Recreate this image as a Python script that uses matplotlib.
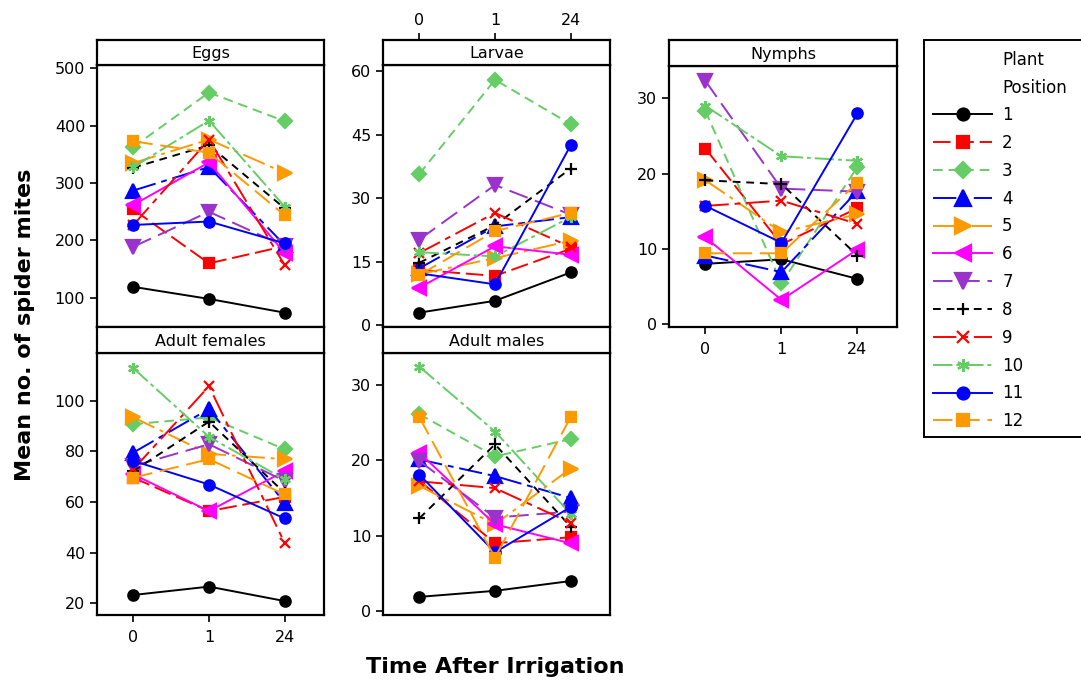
import matplotlib
matplotlib.use('Agg')
import matplotlib.pyplot as plt
from matplotlib.patches import Rectangle

W, H = 1081, 684

times = ['0', '1', '24']
plant_pos = [str(i) for i in range(1, 13)]

# mean counts per plant position (rows) at 0, 1, 24 h
eggs = [[119, 98, 74], [254, 160, 190], [363, 458, 408], [287, 328, 192],
        [335, 376, 318], [262, 336, 178], [189, 250, 190], [327, 366, 256],
        [227, 376, 157], [328, 409, 259], [227, 233, 195], [373, 353, 244]]
larvae = [[2.9, 5.7, 12.4], [13.0, 11.6, 18.0], [35.7, 58.0, 47.5], [13.4, 23.3, 25.5],
          [12.0, 15.8, 19.9], [8.8, 18.6, 16.6], [20.2, 33.1, 26.1], [14.7, 23.6, 37.0],
          [17.0, 26.5, 18.4], [17.2, 16.2, 25.5], [12.2, 9.6, 42.5], [11.8, 22.2, 26.5]]
nymphs = [[8.0, 8.6, 6.0], [23.3, 10.6, 15.4], [28.3, 5.4, 20.9], [9.1, 6.9, 17.7],
          [19.1, 12.2, 14.6], [11.5, 3.2, 9.9], [32.3, 18.0, 17.6], [19.1, 18.6, 9.1],
          [15.7, 16.4, 13.3], [29.0, 22.3, 21.7], [15.7, 10.8, 28.0], [9.4, 9.4, 18.8]]
adult_f = [[23.3, 26.6, 20.9], [69.6, 56.4, 62.0], [90.7, 93.4, 80.8], [79.5, 96.7, 59.7],
           [93.4, 79.0, 76.9], [70.9, 56.4, 72.2], [74.2, 82.8, 68.3], [72.2, 91.7, 63.6],
           [72.9, 105.7, 43.8], [112.8, 85.7, 68.9], [76.2, 66.9, 53.5], [69.6, 76.9, 63.0]]
adult_m = [[1.9, 2.7, 4.0], [17.3, 9.0, 9.8], [26.1, 20.5, 22.8], [20.1, 17.9, 15.0],
           [16.6, 11.5, 18.9], [21.0, 11.5, 9.0], [19.9, 12.4, 13.2], [12.3, 22.1, 11.2],
           [17.2, 16.3, 11.7], [32.4, 23.8, 12.9], [18.1, 7.8, 13.8], [25.7, 7.1, 25.7]]

colors = ['black', '#ff0000', '#66cc66', '#0000ff', '#ff9900', '#ff00ff',
          '#9933cc', 'black', '#ff0000', '#66cc66', '#0000ff', '#ff9900']
markers = ['o', 's', 'D', '^', '>', '<', 'v', '+', 'x', (6, 2, 0), 'o', 's']
msizes = [7.5, 7.5, 7.5, 9.5, 9.5, 9.5, 9.5, 8, 7, 8, 7.5, 7.5]
dashes = ['-', (0, (9, 3)), (0, (5, 3)), (0, (12, 3, 3, 3)), (0, (12, 3, 2, 3)), '-',
          (0, (10, 4)), (0, (4, 3)), (0, (12, 3, 3, 3)), (0, (10, 2, 2, 2)), '-', (0, (10, 4))]

# panel: (name, data, yticks, ylim, plot box px (x0, x1, ytop, ybot), header top px)
panels = [
    ('Eggs', eggs, [100, 200, 300, 400, 500], (49, 506), (97, 324, 65, 327), 40),
    ('Larvae', larvae, [0, 15, 30, 45, 60], (-0.5, 61.5), (383, 610, 65, 327), 40),
    ('Nymphs', nymphs, [0, 10, 20, 30], (-0.4, 34.3), (669, 897, 66, 327), 40),
    ('Adult females', adult_f, [20, 40, 60, 80, 100], (15.4, 118.8), (97, 324, 353, 615), 327),
    ('Adult males', adult_m, [0, 10, 20, 30], (-0.5, 34.2), (383, 610, 353, 615), 327),
]

fig = plt.figure(figsize=(W / 100, H / 100), dpi=100)
xlim = (-0.48, 2.52)
fs = 11.5


def frac(x0, x1, ytop, ybot):
    return [x0 / W, 1 - ybot / H, (x1 - x0) / W, (ybot - ytop) / H]


handles = []
for name, data, yt, yl, box, htop in panels:
    ax = fig.add_axes(frac(*box))
    for i, vals in enumerate(data):
        ln, = ax.plot(range(3), vals, color=colors[i], marker=markers[i], ms=msizes[i],
                      ls=dashes[i], lw=1.4, mec=colors[i], mew=1.6)
        if name == 'Eggs':
            handles.append(ln)
    ax.set_xlim(*xlim)
    ax.set_ylim(*yl)
    ax.set_yticks(yt)
    ax.tick_params(axis='y', direction='out', length=5, width=1.2, labelsize=fs)
    if name in ('Nymphs', 'Adult females'):
        ax.set_xticks(range(3))
        ax.set_xticklabels(times)
        ax.tick_params(axis='x', direction='out', length=5, width=1.2, labelsize=fs, pad=6)
    else:
        ax.set_xticks([])
    for s in ax.spines.values():
        s.set_linewidth(1.6)

    hd = fig.add_axes(frac(box[0], box[1], htop, box[2]))
    hd.set_xlim(*xlim)
    hd.set_yticks([])
    if name == 'Larvae':
        hd.xaxis.tick_top()
        hd.set_xticks(range(3))
        hd.set_xticklabels(times)
        hd.tick_params(axis='x', direction='out', length=5, width=1.2, labelsize=fs)
    else:
        hd.set_xticks([])
    for s in hd.spines.values():
        s.set_linewidth(1.6)
    hd.text(0.5, 0.45, name, ha='center', va='center', fontsize=fs, transform=hd.transAxes)

# legend box reaches past the right edge of the figure
fig.patches.append(Rectangle((924 / W, 1 - 437 / H), 200 / W, 397 / H, transform=fig.transFigure,
                             facecolor='white', edgecolor='black', linewidth=1.4, zorder=0))
leg = fig.legend(handles, plant_pos, loc='upper left', bbox_to_anchor=(933 / W, 1 - 106 / H),
                 fontsize=12, frameon=False, handlelength=3.55, handletextpad=0.6,
                 labelspacing=0.59, borderpad=0, borderaxespad=0, markerscale=1.15)
fig.text(1002 / W, 1 - 60 / H, 'Plant', fontsize=12, ha='left', va='center')
fig.text(1002 / W, 1 - 88 / H, 'Position', fontsize=12, ha='left', va='center')

fig.text(25 / W, 1 - 325 / H, 'Mean no. of spider mites', rotation=90, fontsize=16,
         fontweight='bold', ha='center', va='center')
fig.text(495 / W, 1 - 667 / H, 'Time After Irrigation', fontsize=16, fontweight='bold',
         ha='center', va='center')

fig.savefig('out.png', dpi=100)
